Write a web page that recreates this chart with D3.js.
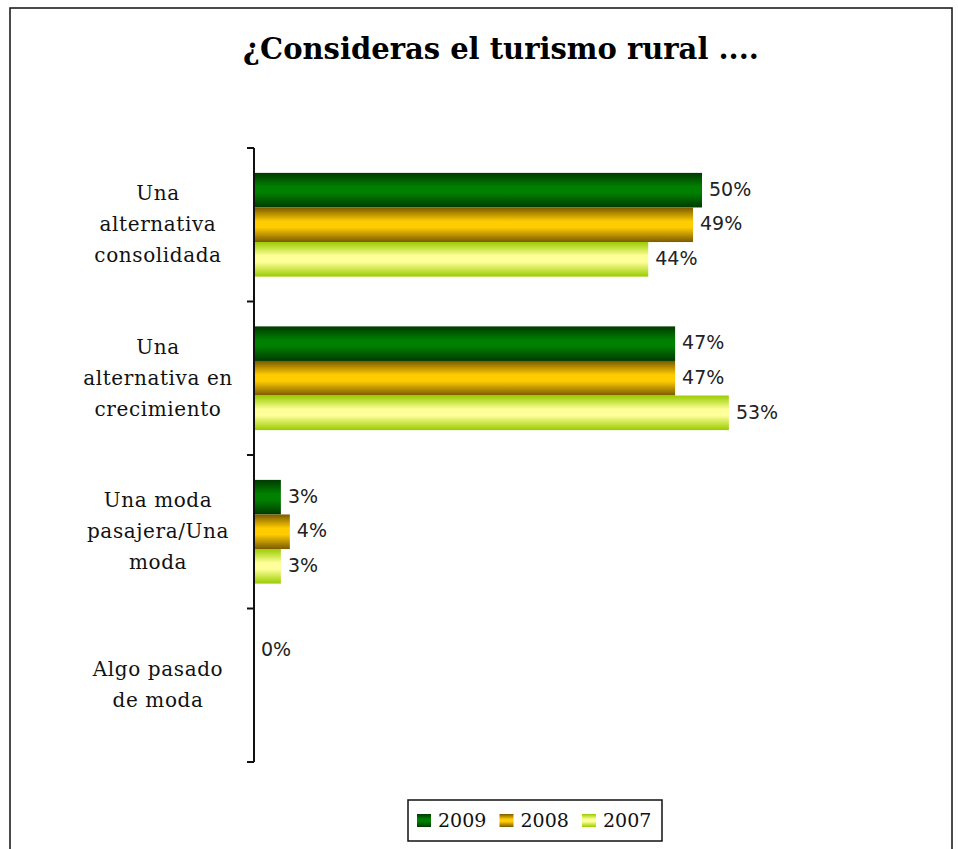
<!DOCTYPE html>
<html>
<head>
<meta charset="utf-8">
<script src="https://cdn.jsdelivr.net/npm/d3@7"></script>
<style>
  body { margin: 0; background: #fff; }
  svg { display: block; }
  .cat-label { font-family: "DejaVu Serif", serif; font-size: 20px; letter-spacing: 0.6px; fill: #111; }
  .val-label { font-family: "DejaVu Sans", sans-serif; font-size: 19px; fill: #222; }
  .legend-text { font-family: "DejaVu Serif", serif; font-size: 19px; fill: #111; }
  .title { font-family: "DejaVu Serif", serif; font-size: 29px; font-weight: bold; fill: #000; }
</style>
</head>
<body>
<div id="chart"></div>
<script>
// chart data
const title = '¿Consideras el turismo rural ....';
const categories = ['consolidada', 'crecimiento', 'pasajera', 'pasado'];
const categoryLines = [
  ['Una', 'alternativa', 'consolidada'],
  ['Una', 'alternativa en', 'crecimiento'],
  ['Una moda', 'pasajera/Una', 'moda'],
  ['Algo pasado', 'de moda']
];
const seriesNames = ['2009', '2008', '2007'];
const values2009 = [50, 47, 3, 0];
const values2008 = [49, 47, 4, null];
const values2007 = [44, 53, 3, null];
const xMax = 60;

const seriesValues = { '2009': values2009, '2008': values2008, '2007': values2007 };

// gradient colours per series: edge, centre
const gradColors = {
  '2009': ['#003a00', '#008000'],
  '2008': ['#7a5a00', '#ffcc00'],
  '2007': ['#99cc00', '#ffff99']
};

const width = 958, height = 849;

const svg = d3.select('#chart').append('svg')
  .attr('width', width)
  .attr('height', height);

// gradients
const defs = svg.append('defs');
seriesNames.forEach((s, i) => {
  const g = defs.append('linearGradient')
    .attr('id', 'grad' + i)
    .attr('x1', 0).attr('y1', 0).attr('x2', 0).attr('y2', 1);
  const [edge, mid] = gradColors[s];
  g.append('stop').attr('offset', '0%').attr('stop-color', edge);
  g.append('stop').attr('offset', '40%').attr('stop-color', mid);
  g.append('stop').attr('offset', '58%').attr('stop-color', mid);
  g.append('stop').attr('offset', '100%').attr('stop-color', edge);
});

// outer frame
svg.append('rect')
  .attr('x', 10).attr('y', 8)
  .attr('width', 942).attr('height', 880)
  .attr('fill', 'none')
  .attr('stroke', '#111')
  .attr('stroke-width', 1.5);

// title
svg.append('text')
  .attr('class', 'title')
  .attr('x', 501)
  .attr('y', 59)
  .attr('text-anchor', 'middle')
  .text(title);

// scales
const y = d3.scaleBand()
  .domain(categories)
  .range([148, 762]);

const yInner = d3.scaleBand()
  .domain(seriesNames)
  .range([0, y.bandwidth()])
  .paddingOuter(0.72);

const x = d3.scaleLinear()
  .domain([0, xMax])
  .range([254, 791.6]);

// bars
const groups = svg.append('g').attr('class', 'bars')
  .selectAll('g')
  .data(categories)
  .join('g')
  .attr('transform', d => `translate(0,${y(d)})`);

const barData = (c, ci) => seriesNames
  .map((s, si) => ({ s, si, v: seriesValues[s][ci] }))
  .filter(d => d.v !== null);

groups.each(function (c, ci) {
  const g = d3.select(this);
  const data = barData(c, ci);
  g.selectAll('rect')
    .data(data.filter(d => d.v > 0))
    .join('rect')
    .attr('x', x(0))
    .attr('y', d => yInner(d.s))
    .attr('width', d => x(d.v) - x(0))
    .attr('height', yInner.bandwidth())
    .attr('fill', d => `url(#grad${d.si})`);

  g.selectAll('text')
    .data(data)
    .join('text')
    .attr('class', 'val-label')
    .attr('x', d => x(d.v) + 7)
    .attr('y', d => yInner(d.s) + yInner.bandwidth() / 2)
    .attr('dy', '0.3em')
    .text(d => d.v + '%');
});

// vertical axis with ticks between categories
const axis = svg.append('g').attr('class', 'axis');
const bounds = categories.map(c => y(c)).concat([y.range()[1]]);
axis.append('line')
  .attr('x1', x(0)).attr('x2', x(0))
  .attr('y1', bounds[0]).attr('y2', bounds[bounds.length - 1])
  .attr('stroke', '#111').attr('stroke-width', 2);
axis.selectAll('line.tick')
  .data(bounds)
  .join('line')
  .attr('class', 'tick')
  .attr('x1', x(0) - 7).attr('x2', x(0))
  .attr('y1', d => d).attr('y2', d => d)
  .attr('stroke', '#111').attr('stroke-width', 2);

// category labels
const lineH = 31;
svg.append('g').attr('class', 'cats')
  .selectAll('text')
  .data(categories)
  .join('text')
  .attr('class', 'cat-label')
  .attr('text-anchor', 'middle')
  .attr('x', 158)
  .attr('y', d => y(d) + y.bandwidth() / 2)
  .each(function (d, i) {
    const lines = categoryLines[i];
    const t = d3.select(this);
    lines.forEach((ln, j) => {
      t.append('tspan')
        .attr('x', 158)
        .attr('dy', j === 0 ? ((-(lines.length - 1) / 2) * lineH + 6.5) : lineH)
        .text(ln);
    });
  });

// legend
const legend = svg.append('g').attr('class', 'legend');
legend.append('rect')
  .attr('x', 408).attr('y', 800)
  .attr('width', 254).attr('height', 41)
  .attr('fill', '#fff')
  .attr('stroke', '#111').attr('stroke-width', 1.5);

const legendItems = legend.selectAll('g.item')
  .data(seriesNames)
  .join('g')
  .attr('class', 'item')
  .attr('transform', (d, i) => `translate(${417 + i * 82.5},814)`);

legendItems.append('rect')
  .attr('width', 14).attr('height', 13)
  .attr('fill', (d, i) => `url(#grad${i})`);

legendItems.append('text')
  .attr('class', 'legend-text')
  .attr('x', 21)
  .attr('y', 13)
  .text(d => d);
</script>
</body>
</html>
